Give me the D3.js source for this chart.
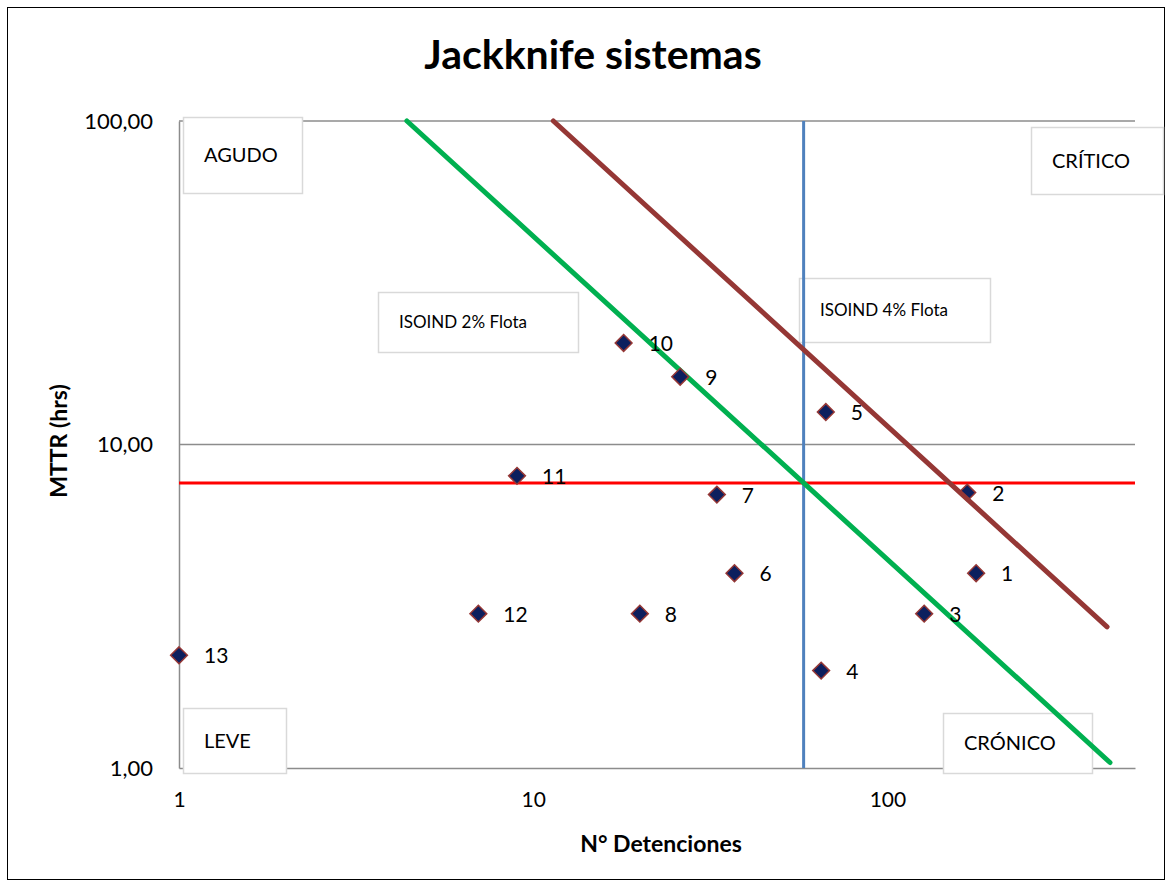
<!DOCTYPE html>
<html>
<head>
<meta charset="utf-8">
<script src="https://cdn.jsdelivr.net/npm/d3@7"></script>
<style>
  body { margin: 0; background: #fff; }
  text { font-family: Lato, "Open Sans", sans-serif; fill: #000; }
</style>
</head>
<body>
<svg id="chart" width="1172" height="886"></svg>
<script>
// Data.
const sistemas = [1, 2, 3, 4, 5, 6, 7, 8, 9, 10, 11, 12, 13];
const detenciones = [178, 168, 127, 65, 67, 37, 33, 20, 26, 18, 9, 7, 1];
const mttr = [4.0, 7.1, 3.0, 2.0, 12.6, 4.0, 7.0, 3.0, 16.2, 20.6, 8.0, 3.0, 2.23];

// Limits (mean values) and iso-availability lines.
const limiteDetenciones = 58;
const limiteMTTR = 7.6;
const isoind2 = [[4.4, 100], [425, 1.04]];
const isoind4 = [[11.4, 100], [417, 2.73]];

// Axis ticks.
const xTicks = [1, 10, 100];
const yTicks = [1, 10, 100];

// Text boxes: quadrant names and line labels (pixel layout).
const cajas = [
  { t: "AGUDO", x: 183, y: 117, w: 119, h: 76, size: 20 },
  { t: "CRÍTICO", x: 1031, y: 127, w: 132, h: 67, size: 20 },
  { t: "LEVE", x: 183, y: 708, w: 103, h: 65, size: 20 },
  { t: "CRÓNICO", x: 943, y: 713, w: 149, h: 60, size: 20 },
  { t: "ISOIND 2% Flota", x: 378, y: 292, w: 200, h: 60, size: 17 },
  { t: "ISOIND 4% Flota", x: 799, y: 278, w: 191, h: 64, size: 17 }
];

const svg = d3.select("#chart");

// Outer frame.
svg.append("rect")
  .attr("x", 7.5).attr("y", 7.5)
  .attr("width", 1157).attr("height", 872)
  .attr("fill", "#fff").attr("stroke", "#000").attr("stroke-width", 1);

// Scales.
const x = d3.scaleLog().domain([1, 500]).range([179, 1135]);
const y = d3.scaleLog().domain([1, 100]).range([768, 121]);

const fmt = d3.formatLocale({ decimal: ",", thousands: ".", grouping: [3], currency: ["$", ""] }).format(".2f");

// Title.
svg.append("text")
  .attr("x", 593).attr("y", 69)
  .attr("text-anchor", "middle")
  .style("font-size", "41px").style("font-weight", "bold")
  .text("Jackknife sistemas");

// Gridlines.
svg.append("g").selectAll("line")
  .data(yTicks.slice(1))
  .enter().append("line")
  .attr("x1", x(1)).attr("x2", x(500))
  .attr("y1", d => y(d)).attr("y2", d => y(d))
  .attr("stroke", "#8c8c8c").attr("stroke-width", 1.5);

// Axes.
const xAxis = svg.append("g")
  .attr("transform", "translate(0," + y(1) + ")")
  .call(d3.axisBottom(x).tickValues(xTicks).tickSize(0).tickPadding(24).tickFormat(d3.format("d")));
xAxis.select(".domain").attr("stroke", "#8c8c8c").attr("stroke-width", 1.5);
xAxis.selectAll("text").style("font-size", "21px").style("font-family", "Lato, sans-serif");

const yAxis = svg.append("g")
  .attr("transform", "translate(" + x(1) + ",0)")
  .call(d3.axisLeft(y).tickValues(yTicks).tickSize(0).tickPadding(26).tickFormat(fmt));
yAxis.select(".domain").attr("stroke", "#8c8c8c").attr("stroke-width", 1.5);
yAxis.selectAll("text").style("font-size", "22px").style("font-family", "Lato, sans-serif");

// Axis titles.
svg.append("text")
  .attr("x", 661).attr("y", 852)
  .attr("text-anchor", "middle")
  .style("font-size", "23px").style("font-weight", "bold")
  .text("N° Detenciones");

svg.append("text")
  .attr("transform", "translate(67,441) rotate(-90)")
  .attr("text-anchor", "middle")
  .style("font-size", "23px").style("font-weight", "bold")
  .text("MTTR (hrs)");

// Text boxes.
const cg = svg.append("g").selectAll("g")
  .data(cajas)
  .enter().append("g");
cg.append("rect")
  .attr("x", d => d.x + 0.5).attr("y", d => d.y + 0.5)
  .attr("width", d => d.w).attr("height", d => d.h)
  .attr("fill", "#fff").attr("stroke", "#d9d9d9").attr("stroke-width", 1.5);
cg.append("text")
  .attr("x", d => d.x + 21).attr("y", d => d.y + d.h / 2 + d.size * 0.36)
  .style("font-size", d => d.size + "px")
  .text(d => d.t);

// Limit lines.
svg.append("line")
  .attr("x1", x(1)).attr("x2", x(500))
  .attr("y1", y(limiteMTTR)).attr("y2", y(limiteMTTR))
  .attr("stroke", "#ff0000").attr("stroke-width", 3);

svg.append("line")
  .attr("x1", x(limiteDetenciones)).attr("x2", x(limiteDetenciones))
  .attr("y1", y(100)).attr("y2", y(1))
  .attr("stroke", "#4f81bd").attr("stroke-width", 3);

const linea = d3.line().x(d => x(d[0])).y(d => y(d[1]));

svg.append("path")
  .datum(isoind2)
  .attr("d", linea)
  .attr("fill", "none").attr("stroke", "#00b050")
  .attr("stroke-width", 5).attr("stroke-linecap", "round");

// Points.
const puntos = sistemas.map((s, i) => ({ s: s, n: detenciones[i], m: mttr[i] }));
const diamante = d3.symbol().type(d3.symbolDiamond2).size(180);

svg.append("g").selectAll("path")
  .data(puntos)
  .enter().append("path")
  .attr("transform", d => "translate(" + x(d.n) + "," + y(d.m) + ")")
  .attr("d", diamante)
  .attr("fill", "#0c1f5e").attr("stroke", "#953735").attr("stroke-width", 1.5);

svg.append("g").selectAll("text")
  .data(puntos)
  .enter().append("text")
  .attr("x", d => x(d.n) + 25).attr("y", d => y(d.m) + 8)
  .style("font-size", "21px")
  .text(d => d.s);

svg.append("path")
  .datum(isoind4)
  .attr("d", linea)
  .attr("fill", "none").attr("stroke", "#953735")
  .attr("stroke-width", 5).attr("stroke-linecap", "round");
</script>
</body>
</html>
